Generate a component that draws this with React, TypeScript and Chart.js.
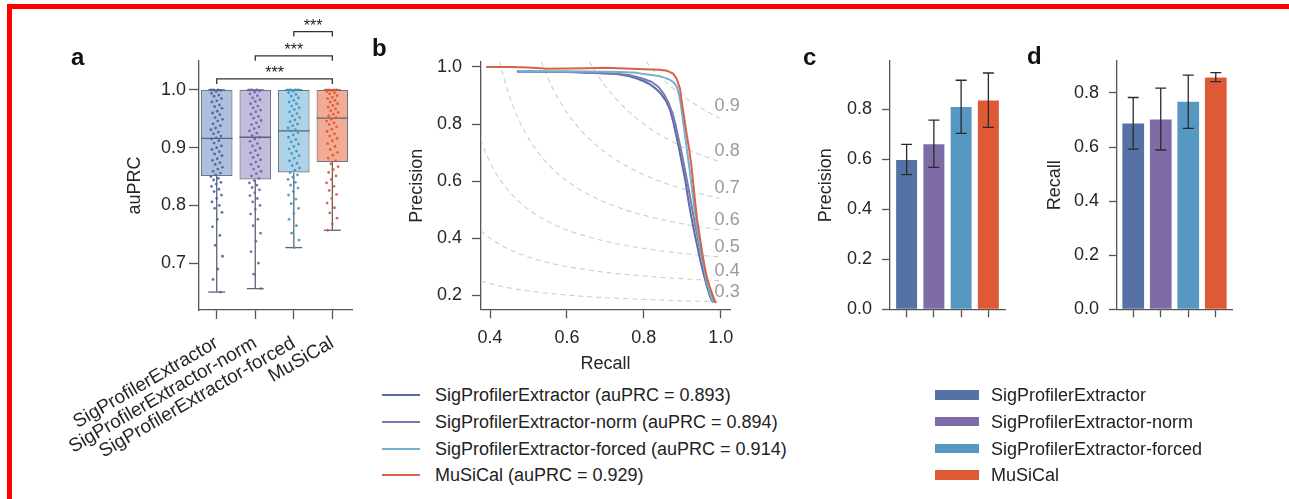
import React, { useEffect, useRef } from "react";
import { Chart, registerables } from "chart.js";

Chart.register(...registerables);

const FONT = "'Liberation Sans', Arial, Helvetica, sans-serif";
const TEXT = "#262626";
const AXIS = "#555555";
Chart.defaults.font.family = FONT;
Chart.defaults.font.size = 18;
Chart.defaults.color = TEXT;

// ---------------- data ----------------
const METHODS = [
  "SigProfilerExtractor",
  "SigProfilerExtractor-norm",
  "SigProfilerExtractor-forced",
  "MuSiCal",
];
const AUPRC_SCORES = [0.893, 0.894, 0.914, 0.929];

// panel a: box statistics
const BOX_LOW = [0.65, 0.656, 0.727, 0.757];
const BOX_Q1 = [0.851, 0.845, 0.857, 0.875];
const BOX_MEDIAN = [0.916, 0.918, 0.929, 0.951];
const BOX_Q3 = [1.0, 1.0, 1.0, 1.0];
const BOX_HIGH = [1.0, 1.0, 1.0, 1.0];

// panel a: per-sample auPRC values (read approximately)
const SPE_AUPRC = [1.0, 1.0, 1.0, 0.999, 0.997, 0.994, 0.991, 0.989, 0.985, 0.981, 0.979, 0.974, 0.971, 0.968, 0.963, 0.96, 0.957, 0.952, 0.949, 0.946, 0.941, 0.938, 0.934, 0.931, 0.927, 0.924, 0.92, 0.917, 0.915, 0.912, 0.908, 0.903, 0.9, 0.897, 0.893, 0.889, 0.886, 0.881, 0.878, 0.874, 0.871, 0.866, 0.863, 0.859, 0.856, 0.853, 0.85, 0.847, 0.844, 0.84, 0.837, 0.833, 0.828, 0.824, 0.818, 0.812, 0.806, 0.8, 0.795, 0.788, 0.776, 0.763, 0.748, 0.731, 0.712, 0.69, 0.672, 0.65];
const NORM_AUPRC = [1.0, 1.0, 1.0, 0.998, 0.996, 0.993, 0.99, 0.986, 0.983, 0.98, 0.976, 0.972, 0.969, 0.965, 0.962, 0.958, 0.954, 0.951, 0.947, 0.943, 0.94, 0.936, 0.933, 0.929, 0.925, 0.921, 0.918, 0.915, 0.911, 0.907, 0.903, 0.899, 0.895, 0.891, 0.887, 0.883, 0.879, 0.875, 0.871, 0.867, 0.863, 0.859, 0.855, 0.851, 0.847, 0.843, 0.839, 0.835, 0.831, 0.827, 0.822, 0.817, 0.812, 0.806, 0.8, 0.793, 0.785, 0.776, 0.765, 0.752, 0.738, 0.72, 0.7, 0.681, 0.656];
const FORCED_AUPRC = [1.0, 1.0, 1.0, 1.0, 0.998, 0.995, 0.992, 0.989, 0.986, 0.982, 0.979, 0.976, 0.972, 0.969, 0.966, 0.962, 0.959, 0.955, 0.952, 0.948, 0.945, 0.941, 0.938, 0.934, 0.931, 0.929, 0.926, 0.922, 0.918, 0.914, 0.91, 0.906, 0.902, 0.898, 0.894, 0.89, 0.886, 0.882, 0.877, 0.873, 0.869, 0.865, 0.861, 0.857, 0.853, 0.849, 0.845, 0.84, 0.835, 0.83, 0.824, 0.818, 0.811, 0.803, 0.795, 0.786, 0.776, 0.765, 0.752, 0.74, 0.727];
const MUSICAL_AUPRC = [1.0, 1.0, 1.0, 1.0, 0.999, 0.997, 0.995, 0.993, 0.99, 0.987, 0.985, 0.982, 0.979, 0.976, 0.973, 0.97, 0.967, 0.964, 0.961, 0.958, 0.955, 0.952, 0.949, 0.946, 0.943, 0.94, 0.936, 0.932, 0.928, 0.924, 0.92, 0.916, 0.912, 0.907, 0.902, 0.897, 0.892, 0.887, 0.882, 0.877, 0.872, 0.867, 0.862, 0.857, 0.851, 0.845, 0.839, 0.833, 0.826, 0.819, 0.812, 0.804, 0.796, 0.787, 0.778, 0.768, 0.757];

// significance brackets (pairs of categories, bracket height in auPRC units)
const SIG_PAIRS = [[0, 3], [1, 3], [2, 3]];
const SIG_LEVELS = [1.019, 1.059, 1.101];
const SIG_TEXT = ["***", "***", "***"];

const PANEL_A_YTICKS = [0.7, 0.8, 0.9, 1.0];

// panel b: precision-recall curves
const SPE_RECALL = [0.47, 0.52, 0.56, 0.6, 0.65, 0.7, 0.73, 0.76, 0.78, 0.8, 0.815, 0.83, 0.845, 0.858, 0.868, 0.876, 0.884, 0.892, 0.9, 0.908, 0.916, 0.924, 0.932, 0.94, 0.948, 0.956, 0.964, 0.972, 0.978];
const SPE_PRECISION = [0.985, 0.984, 0.983, 0.983, 0.981, 0.978, 0.975, 0.968, 0.96, 0.95, 0.94, 0.925, 0.905, 0.88, 0.85, 0.81, 0.76, 0.71, 0.655, 0.6, 0.53, 0.47, 0.415, 0.365, 0.315, 0.27, 0.23, 0.195, 0.176];
const NORM_RECALL = [0.47, 0.52, 0.56, 0.6, 0.65, 0.7, 0.73, 0.76, 0.78, 0.8, 0.82, 0.838, 0.852, 0.864, 0.874, 0.882, 0.89, 0.898, 0.906, 0.914, 0.922, 0.93, 0.938, 0.946, 0.954, 0.962, 0.97, 0.976, 0.981];
const NORM_PRECISION = [0.983, 0.983, 0.982, 0.982, 0.98, 0.977, 0.976, 0.972, 0.966, 0.958, 0.948, 0.93, 0.905, 0.875, 0.84, 0.8, 0.75, 0.7, 0.645, 0.59, 0.53, 0.47, 0.415, 0.36, 0.31, 0.265, 0.225, 0.195, 0.175];
const FORCED_RECALL = [0.474, 0.52, 0.56, 0.6, 0.65, 0.7, 0.74, 0.78, 0.8, 0.82, 0.84, 0.855, 0.868, 0.878, 0.886, 0.892, 0.896, 0.901, 0.907, 0.913, 0.919, 0.925, 0.931, 0.938, 0.946, 0.954, 0.962, 0.971, 0.98];
const FORCED_PRECISION = [0.985, 0.985, 0.984, 0.985, 0.984, 0.983, 0.982, 0.98, 0.975, 0.972, 0.968, 0.962, 0.955, 0.945, 0.93, 0.9, 0.87, 0.82, 0.76, 0.7, 0.64, 0.575, 0.51, 0.44, 0.37, 0.31, 0.255, 0.21, 0.172];
const MUSICAL_RECALL = [0.39, 0.45, 0.5, 0.55, 0.6, 0.65, 0.7, 0.75, 0.8, 0.84, 0.86, 0.876, 0.885, 0.894, 0.898, 0.904, 0.911, 0.918, 0.924, 0.932, 0.938, 0.944, 0.951, 0.958, 0.964, 0.971, 0.979, 0.987];
const MUSICAL_PRECISION = [1.0, 1.0, 0.998, 0.994, 0.995, 0.996, 0.997, 0.995, 0.992, 0.99, 0.987, 0.977, 0.96, 0.924, 0.884, 0.83, 0.767, 0.71, 0.65, 0.545, 0.47, 0.417, 0.355, 0.3, 0.262, 0.23, 0.2, 0.172];

const ISO_F1 = [0.3, 0.4, 0.5, 0.6, 0.7, 0.8, 0.9];
const PANEL_B_XTICKS = [0.4, 0.6, 0.8, 1.0];
const PANEL_B_YTICKS = [0.2, 0.4, 0.6, 0.8, 1.0];

// panel c: precision (mean and error-bar bounds)
const PRECISION_MEAN = [0.598, 0.661, 0.81, 0.836];
const PRECISION_LOW = [0.539, 0.568, 0.704, 0.728];
const PRECISION_HIGH = [0.66, 0.757, 0.917, 0.946];
// panel d: recall
const RECALL_MEAN = [0.687, 0.702, 0.767, 0.857];
const RECALL_LOW = [0.592, 0.589, 0.669, 0.842];
const RECALL_HIGH = [0.783, 0.818, 0.866, 0.875];
const BAR_YTICKS = [0, 0.2, 0.4, 0.6, 0.8];
const BAR_XTICKS = [0, 1, 2, 3];

// ---------------- styles ----------------
const BOX_FILL = ["rgba(160,181,215,0.85)", "rgba(186,176,214,0.85)", "rgba(160,202,226,0.85)", "rgba(240,158,132,0.85)"];
const BOX_EDGE = "#6f7682";
const POINT_COLORS = ["rgba(70,100,160,0.9)", "rgba(115,98,170,0.9)", "rgba(60,150,200,0.9)", "rgba(225,85,45,0.9)"];
const LINE_COLORS = ["#5470a6", "#7f76b2", "#72b1d0", "#d9604b"];
const BAR_COLORS = ["#5671a6", "#7d6ca7", "#5698c1", "#de5a34"];

// ---------------- helpers ----------------
function yAxis(min: number, max: number, ticks: number[], title: string, width: number, tickLen: number, pad: number) {
  return {
    type: "linear",
    position: "left",
    min,
    max,
    afterBuildTicks: (s: any) => {
      s.ticks = ticks.map((v) => ({ value: v }));
    },
    afterFit: (s: any) => {
      s.width = width;
    },
    grid: { display: true, drawOnChartArea: false, drawTicks: true, tickLength: tickLen, tickWidth: 1.3, tickColor: AXIS },
    border: { display: true, color: AXIS, width: 1.3 },
    ticks: { padding: pad, color: TEXT, font: { size: 18 }, callback: (v: any) => Number(v).toFixed(1) },
    title: { display: !!title, text: title, color: TEXT, font: { size: 18 }, padding: { top: 4, bottom: 4 } },
  };
}

function xLinear(min: number, max: number, ticks: number[], height: number, tickLen: number, extra: any) {
  return {
    type: "linear",
    position: "bottom",
    min,
    max,
    offset: false,
    afterBuildTicks: (s: any) => {
      s.ticks = ticks.map((v) => ({ value: v }));
    },
    afterFit: (s: any) => {
      s.height = height;
    },
    grid: { display: true, offset: false, drawOnChartArea: false, drawTicks: true, tickLength: tickLen, tickWidth: 1.3, tickColor: AXIS },
    border: { display: true, color: AXIS, width: 1.3 },
    ...extra,
  };
}

function ChartBox(props: { left: number; top: number; width: number; height: number; make: () => any }) {
  const ref = useRef<HTMLCanvasElement>(null);
  useEffect(() => {
    const chart = new Chart(ref.current as HTMLCanvasElement, props.make());
    return () => chart.destroy();
  }, []);
  return (
    <canvas
      ref={ref}
      width={props.width}
      height={props.height}
      style={{ position: "absolute", left: props.left, top: props.top, width: props.width, height: props.height }}
    />
  );
}

// ---------------- panel a ----------------
const boxPlugin = {
  id: "boxExtras",
  afterDatasetDraw(chart: any, args: any) {
    if (args.index !== 0) return;
    const { ctx } = chart;
    const x = chart.scales.x;
    const y = chart.scales.y;
    const meta = chart.getDatasetMeta(0);
    ctx.save();
    ctx.strokeStyle = "#5f6570";
    ctx.lineWidth = 1.3;
    for (let i = 0; i < METHODS.length; i++) {
      const el = meta.data[i];
      const cx = x.getPixelForValue(i);
      const capL = x.getPixelForValue(i - 0.22);
      const capR = x.getPixelForValue(i + 0.22);
      const seg = (x1: number, y1: number, x2: number, y2: number) => {
        ctx.beginPath();
        ctx.moveTo(x1, y1);
        ctx.lineTo(x2, y2);
        ctx.stroke();
      };
      seg(cx, y.getPixelForValue(BOX_Q1[i]), cx, y.getPixelForValue(BOX_LOW[i]));
      seg(cx, y.getPixelForValue(BOX_Q3[i]), cx, y.getPixelForValue(BOX_HIGH[i]));
      seg(capL, y.getPixelForValue(BOX_LOW[i]), capR, y.getPixelForValue(BOX_LOW[i]));
      seg(capL, y.getPixelForValue(BOX_HIGH[i]), capR, y.getPixelForValue(BOX_HIGH[i]));
      seg(el.x - el.width / 2, y.getPixelForValue(BOX_MEDIAN[i]), el.x + el.width / 2, y.getPixelForValue(BOX_MEDIAN[i]));
    }
    ctx.restore();
  },
  afterDraw(chart: any) {
    const { ctx } = chart;
    const x = chart.scales.x;
    const y = chart.scales.y;
    ctx.save();
    ctx.strokeStyle = "#333";
    ctx.lineWidth = 1.3;
    ctx.fillStyle = "#222";
    ctx.font = `16px ${FONT}`;
    ctx.textAlign = "center";
    ctx.textBaseline = "alphabetic";
    SIG_PAIRS.forEach((pair, k) => {
      const x1 = x.getPixelForValue(pair[0]);
      const x2 = x.getPixelForValue(pair[1]);
      const yy = y.getPixelForValue(SIG_LEVELS[k]);
      ctx.beginPath();
      ctx.moveTo(x1, yy + 5);
      ctx.lineTo(x1, yy);
      ctx.lineTo(x2, yy);
      ctx.lineTo(x2, yy + 5);
      ctx.stroke();
      ctx.fillText(SIG_TEXT[k], (x1 + x2) / 2, yy - 1);
    });
    ctx.restore();
  },
};

function panelAConfig() {
  const groups = [SPE_AUPRC, NORM_AUPRC, FORCED_AUPRC, MUSICAL_AUPRC];
  const jitter = (k: number) => (((k * 37) % 23) / 22 - 0.5) * 0.3;
  return {
    type: "bar",
    data: {
      datasets: [
        {
          type: "bar",
          data: METHODS.map((_, i) => ({ x: i, y: [BOX_Q1[i], BOX_Q3[i]] })),
          backgroundColor: BOX_FILL,
          borderColor: BOX_EDGE,
          borderWidth: 1.2,
          borderSkipped: false,
          barPercentage: 0.82,
          categoryPercentage: 1,
          order: 10,
        },
        ...groups.map((g, i) => ({
          type: "scatter",
          data: g.map((v, k) => ({ x: i + jitter(k), y: v })),
          pointRadius: 1.4,
          pointBackgroundColor: POINT_COLORS[i],
          pointBorderWidth: 0,
          order: 1,
        })),
      ],
    },
    options: {
      responsive: false,
      animation: false,
      plugins: { legend: { display: false }, tooltip: { enabled: false } },
      layout: { padding: { left: 120, top: 61, right: 18, bottom: 0 } },
      scales: {
        x: xLinear(-0.46, 3.51, [0, 1, 2, 3], 189, 9, {
          ticks: {
            autoSkip: false,
            minRotation: 30,
            maxRotation: 30,
            padding: 13,
            color: TEXT,
            font: { size: 19 },
            callback: (v: any) => METHODS[Math.round(Number(v))],
          },
        }),
        y: yAxis(0.619, 1.05, PANEL_A_YTICKS, "auPRC", 79, 10, 3),
      },
    },
    plugins: [boxPlugin],
  };
}

// ---------------- panel b ----------------
const isoLabelPlugin = {
  id: "isoLabels",
  afterDatasetsDraw(chart: any) {
    const { ctx } = chart;
    const x = chart.scales.x;
    const y = chart.scales.y;
    ctx.save();
    ctx.fillStyle = "#9a9a9a";
    ctx.font = `18px ${FONT}`;
    ctx.textAlign = "left";
    ctx.textBaseline = "alphabetic";
    const xr = 0.984;
    ISO_F1.forEach((f) => {
      const yv = (f * xr) / (2 * xr - f) + 0.015;
      ctx.fillText(f.toFixed(1), x.getPixelForValue(xr), y.getPixelForValue(yv));
    });
    ctx.restore();
  },
};

function panelBConfig() {
  const iso = ISO_F1.map((f) => {
    const pts: { x: number; y: number }[] = [];
    const x0 = Math.max((f * 1.02) / (2.04 - f), 0.36);
    for (let xv = x0; xv <= 1.0001; xv += 0.004) pts.push({ x: xv, y: (f * xv) / (2 * xv - f) });
    return {
      data: pts,
      showLine: true,
      borderColor: "#cdcdcd",
      borderWidth: 1.1,
      borderDash: [5, 4],
      pointRadius: 0,
      order: 10,
    };
  });
  const curves = [
    [SPE_RECALL, SPE_PRECISION],
    [NORM_RECALL, NORM_PRECISION],
    [FORCED_RECALL, FORCED_PRECISION],
    [MUSICAL_RECALL, MUSICAL_PRECISION],
  ].map(([r, p], i) => ({
    data: r.map((xv, k) => ({ x: xv, y: p[k] })),
    showLine: true,
    borderColor: LINE_COLORS[i],
    borderWidth: 2,
    pointRadius: 0,
    order: 3 - i,
  }));
  return {
    type: "scatter",
    data: { datasets: [...iso, ...curves] },
    options: {
      responsive: false,
      animation: false,
      plugins: { legend: { display: false }, tooltip: { enabled: false } },
      layout: { padding: { left: 32, top: 62, right: 60, bottom: 0 } },
      scales: {
        x: xLinear(0.3766, 1.024, PANEL_B_XTICKS, 70.7, 9, {
          ticks: { padding: 9, color: TEXT, font: { size: 18 }, callback: (v: any) => Number(v).toFixed(1) },
          title: { display: true, text: "Recall", color: TEXT, font: { size: 18 }, padding: { top: 4, bottom: 5 } },
        }),
        y: yAxis(0.15, 1.0175, PANEL_B_YTICKS, "Precision", 79, 9, 10),
      },
    },
    plugins: [isoLabelPlugin],
  };
}

// ---------------- panels c, d ----------------
function errorPlugin(lows: number[], highs: number[]) {
  return {
    id: "errorBars",
    afterDatasetsDraw(chart: any) {
      const { ctx } = chart;
      const x = chart.scales.x;
      const y = chart.scales.y;
      ctx.save();
      ctx.strokeStyle = "#2a2a2a";
      ctx.lineWidth = 1.3;
      for (let i = 0; i < lows.length; i++) {
        const cx = x.getPixelForValue(i);
        const y1 = y.getPixelForValue(lows[i]);
        const y2 = y.getPixelForValue(highs[i]);
        ctx.beginPath();
        ctx.moveTo(cx, y1);
        ctx.lineTo(cx, y2);
        ctx.moveTo(cx - 5.5, y1);
        ctx.lineTo(cx + 5.5, y1);
        ctx.moveTo(cx - 5.5, y2);
        ctx.lineTo(cx + 5.5, y2);
        ctx.stroke();
      }
      ctx.restore();
    },
  };
}

function barConfig(
  means: number[],
  lows: number[],
  highs: number[],
  title: string,
  yMax: number,
  xMin: number,
  xMax: number,
  padLeft: number,
  padRight: number,
  yWidth: number,
  barPct: number
) {
  return {
    type: "bar",
    data: {
      datasets: [
        {
          data: means.map((v, i) => ({ x: i, y: v })),
          backgroundColor: BAR_COLORS,
          borderWidth: 0,
          barPercentage: barPct,
          categoryPercentage: 1,
        },
      ],
    },
    options: {
      responsive: false,
      animation: false,
      plugins: { legend: { display: false }, tooltip: { enabled: false } },
      layout: { padding: { left: padLeft, top: 61, right: padRight, bottom: 0 } },
      scales: {
        x: xLinear(xMin, xMax, BAR_XTICKS, 70.7, 8, { ticks: { display: false } }),
        y: yAxis(0, yMax, BAR_YTICKS, title, yWidth, 8, 10),
      },
    },
    plugins: [errorPlugin(lows, highs)],
  };
}

// ---------------- layout ----------------
const panelLabel = (text: string, left: number, top: number) => (
  <div
    key={text}
    style={{ position: "absolute", left, top, fontSize: 24, lineHeight: "24px", fontWeight: "bold", color: "#111", fontFamily: FONT }}
  >
    {text}
  </div>
);

const LEGEND_ROWS = [395, 421.7, 448.5, 475];

export default function App() {
  return (
    <div
      style={{
        position: "absolute",
        left: 0,
        top: 0,
        width: 1289,
        height: 499,
        background: "#ffffff",
        overflow: "hidden",
        fontFamily: FONT,
      }}
    >
      <div
        style={{
          position: "absolute",
          left: 7,
          top: 4,
          width: 1300,
          height: 520,
          borderTop: "5.5px solid #ff0000",
          borderLeft: "5.5px solid #ff0000",
        }}
      />
      <ChartBox left={0} top={0} width={370} height={499} make={panelAConfig} />
      <ChartBox left={370} top={0} width={420} height={380} make={panelBConfig} />
      <ChartBox
        left={780}
        top={0}
        width={240}
        height={380}
        make={() => barConfig(PRECISION_MEAN, PRECISION_LOW, PRECISION_HIGH, "Precision", 0.994, -0.61, 3.61, 31, 15, 79, 0.77)}
      />
      <ChartBox
        left={1030}
        top={0}
        width={230}
        height={380}
        make={() => barConfig(RECALL_MEAN, RECALL_LOW, RECALL_HIGH, "Recall", 0.918, -0.59, 3.59, 10, 28, 77, 0.79)}
      />
      {panelLabel("a", 71, 45)}
      {panelLabel("b", 372, 36)}
      {panelLabel("c", 803, 45)}
      {panelLabel("d", 1027, 44)}
      {METHODS.map((m, i) => (
        <div key={"lb" + m} style={{ position: "absolute", left: 382, top: LEGEND_ROWS[i] - 13, height: 26, width: 440 }}>
          <div style={{ position: "absolute", left: 0, top: 12, width: 38, height: 2, background: LINE_COLORS[i] }} />
          <div style={{ position: "absolute", left: 53, top: 0, lineHeight: "26px", fontSize: 18, color: "#222", whiteSpace: "nowrap" }}>
            {`${m} (auPRC = ${AUPRC_SCORES[i].toFixed(3)})`}
          </div>
        </div>
      ))}
      {METHODS.map((m, i) => (
        <div key={"lc" + m} style={{ position: "absolute", left: 935, top: LEGEND_ROWS[i] - 13, height: 26, width: 340 }}>
          <div style={{ position: "absolute", left: 0, top: 8.25, width: 44, height: 9.5, background: BAR_COLORS[i] }} />
          <div style={{ position: "absolute", left: 56, top: 0, lineHeight: "26px", fontSize: 18, color: "#222", whiteSpace: "nowrap" }}>
            {m}
          </div>
        </div>
      ))}
    </div>
  );
}
